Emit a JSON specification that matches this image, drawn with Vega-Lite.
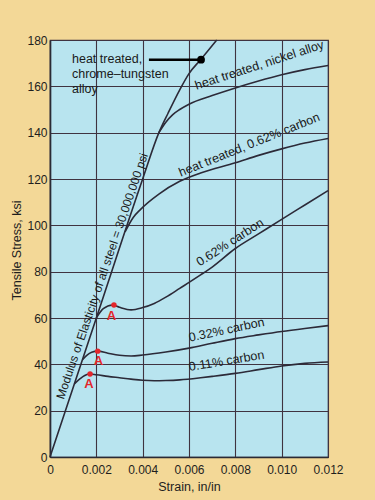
{
  "$schema": "https://vega.github.io/schema/vega-lite/v6.json",
  "width": 278,
  "height": 417,
  "autosize": {"type": "none"},
  "padding": {"left": 50, "top": 40, "right": 47, "bottom": 43},
  "background": "#f3d897",
  "config": {
    "view": {"fill": "#b8e4ef", "stroke": "#3d3340", "strokeWidth": 1.2},
    "font": "Liberation Sans",
    "axis": {
      "gridColor": "#3f3340",
      "gridWidth": 1.1,
      "gridOpacity": 1,
      "domainColor": "#2a2a35",
      "domainWidth": 1.6,
      "tickSize": 0,
      "labelFlush": false,
      "labelOverlap": false,
      "labelFont": "Liberation Sans",
      "labelFontSize": 12,
      "labelColor": "#1e1e1e",
      "titleFont": "Liberation Sans",
      "titleFontSize": 12.5,
      "titleFontWeight": "normal",
      "titleColor": "#1e1e1e"
    }
  },
  "datasets": {
    "curves": [
      {"series": "chrome", "strain": 0, "stress": 0},
      {"series": "chrome", "strain": 0.002, "stress": 60},
      {"series": "chrome", "strain": 0.004, "stress": 120},
      {"series": "chrome", "strain": 0.0047, "stress": 140},
      {"series": "chrome", "strain": 0.0051, "stress": 148.5},
      {"series": "chrome", "strain": 0.0056, "stress": 158.5},
      {"series": "chrome", "strain": 0.006, "stress": 165.5},
      {"series": "chrome", "strain": 0.0065, "stress": 171.5},
      {"series": "chrome", "strain": 0.0072, "stress": 180},

      {"series": "nickel", "strain": 0.0047, "stress": 140},
      {"series": "nickel", "strain": 0.005, "stress": 144.5},
      {"series": "nickel", "strain": 0.0053, "stress": 147.8},
      {"series": "nickel", "strain": 0.0056, "stress": 150},
      {"series": "nickel", "strain": 0.006, "stress": 152.3},
      {"series": "nickel", "strain": 0.007, "stress": 156},
      {"series": "nickel", "strain": 0.008, "stress": 159.3},
      {"series": "nickel", "strain": 0.009, "stress": 162.3},
      {"series": "nickel", "strain": 0.01, "stress": 165},
      {"series": "nickel", "strain": 0.011, "stress": 167.2},
      {"series": "nickel", "strain": 0.012, "stress": 169},

      {"series": "ht062", "strain": 0.00324, "stress": 97.2},
      {"series": "ht062", "strain": 0.0036, "stress": 103.5},
      {"series": "ht062", "strain": 0.0039, "stress": 106.8},
      {"series": "ht062", "strain": 0.0047, "stress": 113.5},
      {"series": "ht062", "strain": 0.0056, "stress": 119},
      {"series": "ht062", "strain": 0.0065, "stress": 122.6},
      {"series": "ht062", "strain": 0.008, "stress": 127},
      {"series": "ht062", "strain": 0.009, "stress": 130.2},
      {"series": "ht062", "strain": 0.01, "stress": 133},
      {"series": "ht062", "strain": 0.011, "stress": 135.5},
      {"series": "ht062", "strain": 0.012, "stress": 137.5},

      {"series": "c062", "strain": 0.002, "stress": 60},
      {"series": "c062", "strain": 0.0023, "stress": 64},
      {"series": "c062", "strain": 0.0027, "stress": 65.6},
      {"series": "c062", "strain": 0.003, "stress": 64.6},
      {"series": "c062", "strain": 0.0035, "stress": 63.5},
      {"series": "c062", "strain": 0.004, "stress": 64.5},
      {"series": "c062", "strain": 0.0045, "stress": 66.3},
      {"series": "c062", "strain": 0.005, "stress": 69},
      {"series": "c062", "strain": 0.0056, "stress": 72.8},
      {"series": "c062", "strain": 0.0065, "stress": 78.6},
      {"series": "c062", "strain": 0.007, "stress": 82},
      {"series": "c062", "strain": 0.008, "stress": 90},
      {"series": "c062", "strain": 0.009, "stress": 96.3},
      {"series": "c062", "strain": 0.01, "stress": 102.6},
      {"series": "c062", "strain": 0.011, "stress": 108.8},
      {"series": "c062", "strain": 0.012, "stress": 115},

      {"series": "c032", "strain": 0.0014, "stress": 42},
      {"series": "c032", "strain": 0.0016, "stress": 44},
      {"series": "c032", "strain": 0.0018, "stress": 45.2},
      {"series": "c032", "strain": 0.00206, "stress": 45.7},
      {"series": "c032", "strain": 0.0025, "stress": 44.8},
      {"series": "c032", "strain": 0.003, "stress": 43.9},
      {"series": "c032", "strain": 0.0035, "stress": 43.6},
      {"series": "c032", "strain": 0.004, "stress": 44},
      {"series": "c032", "strain": 0.005, "stress": 45.3},
      {"series": "c032", "strain": 0.006, "stress": 47},
      {"series": "c032", "strain": 0.007, "stress": 49.1},
      {"series": "c032", "strain": 0.008, "stress": 51.1},
      {"series": "c032", "strain": 0.009, "stress": 52.7},
      {"series": "c032", "strain": 0.01, "stress": 54.2},
      {"series": "c032", "strain": 0.011, "stress": 55.5},
      {"series": "c032", "strain": 0.012, "stress": 56.7},

      {"series": "c011", "strain": 0.00105, "stress": 31.5},
      {"series": "c011", "strain": 0.0013, "stress": 33.8},
      {"series": "c011", "strain": 0.0015, "stress": 35.2},
      {"series": "c011", "strain": 0.00173, "stress": 35.8},
      {"series": "c011", "strain": 0.002, "stress": 35.5},
      {"series": "c011", "strain": 0.0025, "stress": 34.8},
      {"series": "c011", "strain": 0.003, "stress": 34.2},
      {"series": "c011", "strain": 0.0035, "stress": 33.6},
      {"series": "c011", "strain": 0.004, "stress": 33.1},
      {"series": "c011", "strain": 0.0045, "stress": 32.9},
      {"series": "c011", "strain": 0.005, "stress": 33},
      {"series": "c011", "strain": 0.0056, "stress": 33.3},
      {"series": "c011", "strain": 0.0065, "stress": 34.2},
      {"series": "c011", "strain": 0.007, "stress": 34.8},
      {"series": "c011", "strain": 0.008, "stress": 36.1},
      {"series": "c011", "strain": 0.009, "stress": 37.7},
      {"series": "c011", "strain": 0.01, "stress": 39.3},
      {"series": "c011", "strain": 0.011, "stress": 40.4},
      {"series": "c011", "strain": 0.012, "stress": 41}
    ],
    "yieldPoints": [
      {"strain": 0.00276, "stress": 65.6},
      {"strain": 0.00206, "stress": 45.7},
      {"strain": 0.00173, "stress": 35.8}
    ],
    "yieldLabels": [
      {"strain": 0.00265, "stress": 60.8, "label": "A"},
      {"strain": 0.00209, "stress": 41.6, "label": "A"},
      {"strain": 0.00168, "stress": 31.4, "label": "A"}
    ],
    "leader": [
      {"strain": 0.00427, "strain2": 0.00652, "stress": 171.5}
    ],
    "leaderDot": [
      {"strain": 0.00652, "stress": 171.5}
    ],
    "chromeLabel": [
      {"strain": 0.00095, "stress": 171.8, "label": "heat treated,"},
      {"strain": 0.00095, "stress": 165.3, "label": "chrome–tungsten"},
      {"strain": 0.00095, "stress": 158.8, "label": "alloy"}
    ]
  },
  "layer": [
    {
      "data": {"name": "curves"},
      "mark": {"type": "line", "interpolate": "monotone", "color": "#2c2a38", "strokeWidth": 1.6},
      "encoding": {
        "x": {
          "field": "strain", "type": "quantitative",
          "scale": {"domain": [0, 0.012], "nice": false},
          "axis": {
            "values": [0, 0.002, 0.004, 0.006, 0.008, 0.01, 0.012],
            "labelExpr": "datum.value == 0 ? '0' : format(datum.value, '.3f')",
            "labelPadding": 7,
            "title": "Strain, in/in",
            "titleBaseline": "middle",
            "titleY": 29
          }
        },
        "y": {
          "field": "stress", "type": "quantitative",
          "scale": {"domain": [0, 180], "nice": false},
          "axis": {
            "values": [0, 20, 40, 60, 80, 100, 120, 140, 160, 180],
            "labelPadding": 3,
            "title": "Tensile Stress, ksi",
            "titleBaseline": "middle",
            "titleX": -34,
            "titleY": 210
          }
        },
        "detail": {"field": "series", "type": "nominal"}
      }
    },
    {
      "data": {"name": "leader"},
      "mark": {"type": "rule", "color": "#000000", "strokeWidth": 2.5},
      "encoding": {
        "x": {"field": "strain", "type": "quantitative"},
        "x2": {"field": "strain2"},
        "y": {"field": "stress", "type": "quantitative"}
      }
    },
    {
      "data": {"name": "leaderDot"},
      "mark": {"type": "circle", "color": "#000000", "size": 60, "opacity": 1},
      "encoding": {
        "x": {"field": "strain", "type": "quantitative"},
        "y": {"field": "stress", "type": "quantitative"}
      }
    },
    {
      "data": {"name": "yieldPoints"},
      "mark": {"type": "circle", "color": "#e3262b", "size": 30, "opacity": 1},
      "encoding": {
        "x": {"field": "strain", "type": "quantitative"},
        "y": {"field": "stress", "type": "quantitative"}
      }
    },
    {
      "data": {"name": "yieldLabels"},
      "mark": {"type": "text", "color": "#e3262b", "fontSize": 13, "fontWeight": "bold", "font": "Liberation Sans", "align": "center", "baseline": "middle"},
      "encoding": {
        "x": {"field": "strain", "type": "quantitative"},
        "y": {"field": "stress", "type": "quantitative"},
        "text": {"field": "label"}
      }
    },
    {
      "data": {"name": "chromeLabel"},
      "mark": {"type": "text", "color": "#1a1a1a", "fontSize": 12.5, "font": "Liberation Sans", "align": "left", "baseline": "middle"},
      "encoding": {
        "x": {"field": "strain", "type": "quantitative"},
        "y": {"field": "stress", "type": "quantitative"},
        "text": {"field": "label"}
      }
    },
    {
      "data": {"values": [{"strain": 0.00904, "stress": 169.2, "label": "heat treated, nickel alloy"}]},
      "mark": {"type": "text", "color": "#1a1a1a", "fontSize": 12.5, "font": "Liberation Sans", "align": "center", "baseline": "middle", "angle": -18},
      "encoding": {
        "x": {"field": "strain", "type": "quantitative"},
        "y": {"field": "stress", "type": "quantitative"},
        "text": {"field": "label"}
      }
    },
    {
      "data": {"values": [{"strain": 0.0086, "stress": 134.8, "label": "heat treated, 0.62% carbon"}]},
      "mark": {"type": "text", "color": "#1a1a1a", "fontSize": 12.5, "font": "Liberation Sans", "align": "center", "baseline": "middle", "angle": -22},
      "encoding": {
        "x": {"field": "strain", "type": "quantitative"},
        "y": {"field": "stress", "type": "quantitative"},
        "text": {"field": "label"}
      }
    },
    {
      "data": {"values": [{"strain": 0.00777, "stress": 92.7, "label": "0.62% carbon"}]},
      "mark": {"type": "text", "color": "#1a1a1a", "fontSize": 12.5, "font": "Liberation Sans", "align": "center", "baseline": "middle", "angle": -33},
      "encoding": {
        "x": {"field": "strain", "type": "quantitative"},
        "y": {"field": "stress", "type": "quantitative"},
        "text": {"field": "label"}
      }
    },
    {
      "data": {"values": [{"strain": 0.00762, "stress": 54.9, "label": "0.32% carbon"}]},
      "mark": {"type": "text", "color": "#1a1a1a", "fontSize": 12.5, "font": "Liberation Sans", "align": "center", "baseline": "middle", "angle": -12},
      "encoding": {
        "x": {"field": "strain", "type": "quantitative"},
        "y": {"field": "stress", "type": "quantitative"},
        "text": {"field": "label"}
      }
    },
    {
      "data": {"values": [{"strain": 0.00762, "stress": 41.5, "label": "0.11% carbon"}]},
      "mark": {"type": "text", "color": "#1a1a1a", "fontSize": 12.5, "font": "Liberation Sans", "align": "center", "baseline": "middle", "angle": -9.5},
      "encoding": {
        "x": {"field": "strain", "type": "quantitative"},
        "y": {"field": "stress", "type": "quantitative"},
        "text": {"field": "label"}
      }
    },
    {
      "data": {"values": [{"strain": 0.00225, "stress": 78.1, "label": "Modulus of Elasticity of all steel = 30,000,000 psi"}]},
      "mark": {"type": "text", "color": "#1a1a1a", "fontSize": 12, "font": "Liberation Sans", "align": "center", "baseline": "middle", "angle": -71},
      "encoding": {
        "x": {"field": "strain", "type": "quantitative"},
        "y": {"field": "stress", "type": "quantitative"},
        "text": {"field": "label"}
      }
    }
  ]
}
